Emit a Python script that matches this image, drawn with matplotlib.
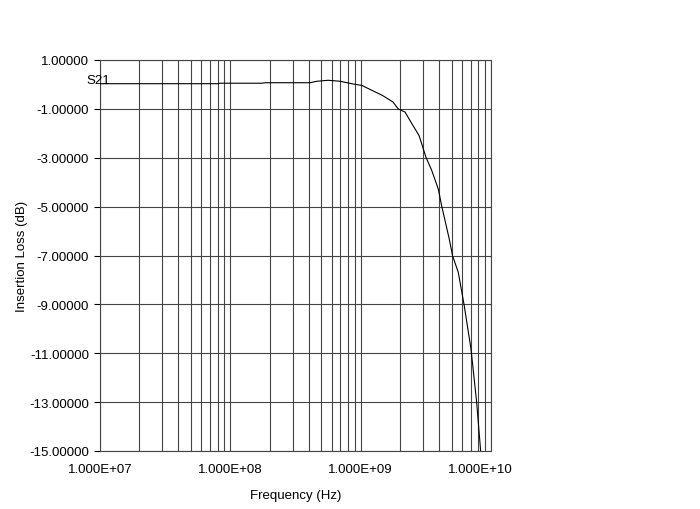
import matplotlib
matplotlib.use('Agg')
import matplotlib.pyplot as plt
import matplotlib.transforms as mtransforms
import numpy as np

# S21 insertion loss
freq_hz = [1.0e7, 8.0e7, 8.3e7, 1.75e8, 1.85e8, 4.08e8, 4.62e8, 5.62e8, 6.94e8,
           8.73e8, 1.02e9, 1.24e9, 1.48e9, 1.77e9, 1.94e9, 2.19e9, 2.48e9,
           2.81e9, 3.17e9, 3.51e9, 3.94e9, 4.18e9, 4.78e9, 5.07e9, 5.61e9,
           6.23e9, 7.02e9, 7.76e9, 8.34e9]
s21_db = [0.03, 0.03, 0.05, 0.05, 0.07, 0.07, 0.13, 0.17, 0.13,
          0.02, -0.04, -0.26, -0.46, -0.72, -1.00, -1.13, -1.62,
          -2.10, -2.98, -3.52, -4.28, -4.96, -6.32, -7.01, -7.69,
          -9.05, -10.82, -13.00, -15.04]

y_ticks = [1, -1, -3, -5, -7, -9, -11, -13, -15]
x_ticks = [1e7, 1e8, 1e9, 1e10]
x_labels = ['1.000E+07', '1.000E+08', '1.000E+09', '1.000E+10']

plt.rcParams['font.family'] = ['Liberation Sans', 'DejaVu Sans']

fig = plt.figure(figsize=(7, 5.1), dpi=100)
ax = fig.add_axes([100/700, 1-452/510, 391/700, 391/510])

# vertical grid on every log step
grid_x = [m * 10**e for e in range(7, 10) for m in range(1, 10)] + [1e10]
for gx in grid_x:
    ax.axvline(gx, color='#444444', lw=0.8, zorder=1)
for gy in y_ticks:
    ax.axhline(gy, color='#444444', lw=0.8, zorder=1)

ax.plot(freq_hz, s21_db, color='black', lw=0.8, zorder=3, clip_on=True)

ax.set_xscale('log')
ax.set_xlim(1e7, 1e10)
ax.set_ylim(-15, 1)
ax.set_xticks(x_ticks)
ax.set_xticklabels(x_labels)
ax.xaxis.set_minor_locator(matplotlib.ticker.NullLocator())
ax.set_yticks(y_ticks)
ax.set_yticklabels(['%.5f' % v for v in y_ticks])
ax.tick_params(axis='x', length=0, pad=9, labelsize=9.5)
ax.tick_params(axis='y', length=4, direction='out', width=0.8, pad=4, labelsize=9.5)

# last frequency label sits a bit left of the axis end in the original
lab = ax.get_xticklabels()[-1]
lab.set_transform(lab.get_transform() + mtransforms.ScaledTranslation(-11/100, 0, fig.dpi_scale_trans))

for sp in ax.spines.values():
    sp.set_linewidth(0.8)
    sp.set_color('#444444')

ax.set_xlabel('Frequency (Hz)', fontsize=9.5, labelpad=10)
ax.set_ylabel('Insertion Loss (dB)', fontsize=9.5, labelpad=1)

ax.text(-0.005, -0.05, 'S21', transform=ax.get_yaxis_transform(), fontsize=9.5,
        ha='center', va='bottom', zorder=4)

fig.savefig('out.png', dpi=100)
